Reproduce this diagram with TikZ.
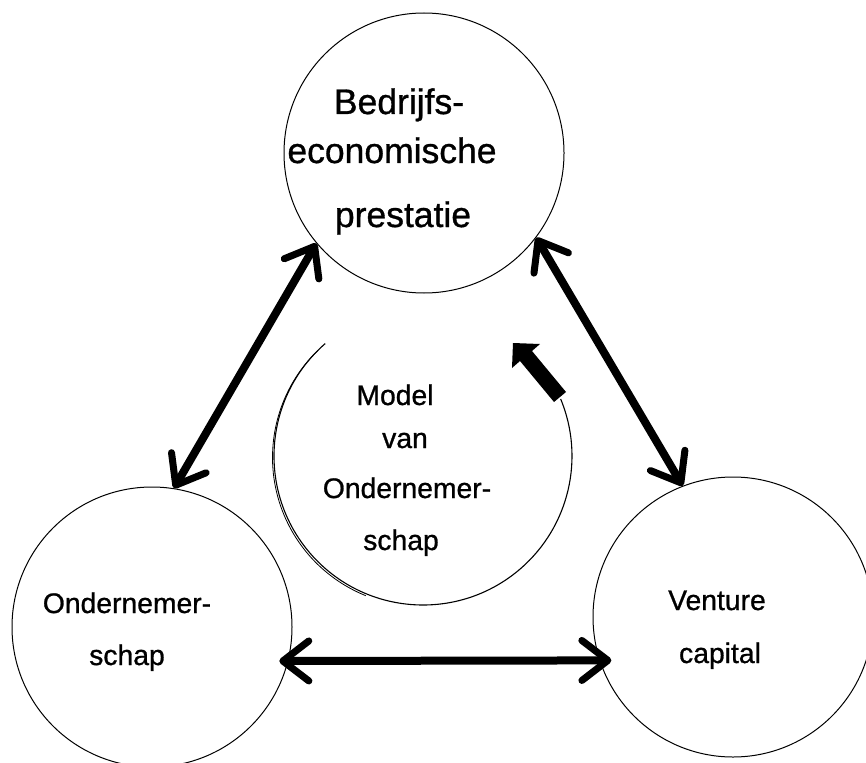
\documentclass[tikz,border=0pt]{standalone}
\usepackage{fontspec}
\setmainfont{Liberation Sans}[FakeBold=0.9]
\usetikzlibrary{arrows.meta}
\begin{document}
\begin{tikzpicture}[x=1pt,y=-1pt,
  topic/.style={circle, draw, line width=1pt, inner sep=0pt, minimum size=280pt},
  bigtxt/.style={anchor=base, inner sep=0pt, font=\fontsize{35.5}{40}\selectfont},
  txt/.style={anchor=base, inner sep=0pt, font=\fontsize{28.3}{32}\selectfont},
  dblarrow/.style={line width=8pt,
    {Straight Barb[length=26pt, width=40pt, round, line width=7pt]}-{Straight Barb[length=26pt, width=40pt, round, line width=7pt]}},
  cycleline/.style={line width=1.1pt}
]
\useasboundingbox (0,0) rectangle (866,762);

% the three topic circles
\node[topic] (perf) at (424,153) {};
\node[topic] (ent)  at (152,627) {};
\node[topic] (vc)   at (733,617) {};

% labels
\node[bigtxt] (perf1) at (399,114) {Bedrijfs-};
\node[bigtxt] (perf2) at (392,163) {economische};
\node[bigtxt] (perf3) at (403,227) {prestatie};

\node[txt] (ent1) at (127,613) {Ondernemer-};
\node[txt] (ent2) at (127,665) {schap};

\node[txt] (vc1) at (717,610) {Venture};
\node[txt] (vc2) at (720,663) {capital};

\node[txt] (mod1) at (395,405) {Model};
\node[txt] (mod2) at (405,448) {van};
\node[txt] (mod3) at (407,498) {Ondernemer-};
\node[txt] (mod4) at (401,550) {schap};

% two-way relations
\draw[dblarrow] (perf.220) -- (ent.81.3);
\draw[dblarrow] (perf.-37.2) -- (vc.111.4);
\draw[dblarrow, shorten <=-9pt, shorten >=-12pt] (ent.-14.5) -- (vc.198.7);

% central cycle with its block arrow
\coordinate (cyc) at (423,456);
\draw[cycleline] (cyc) ++(229:149) arc[start angle=229, end angle=-22.5, radius=149];
\draw[line width=0.8pt] (421.5,457.5) ++(226:149) arc[start angle=226, end angle=112, radius=149];
\fill (566,392) -- (532,351) -- (540,344) -- (513,343) -- (512,368) -- (520,361) -- (554,402) -- cycle;
\end{tikzpicture}
\end{document}
